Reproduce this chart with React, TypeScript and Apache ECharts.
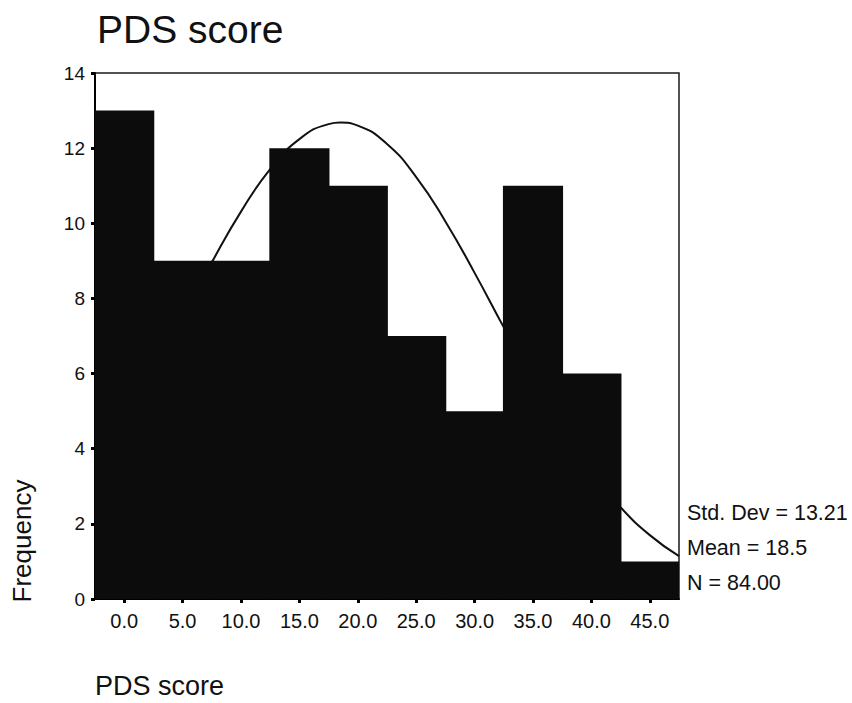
import React, { useEffect, useRef } from "react";
import * as echarts from "echarts";

const binLabels = ["0.0", "5.0", "10.0", "15.0", "20.0", "25.0", "30.0", "35.0", "40.0", "45.0"];
const frequencies = [13, 9, 9, 12, 11, 7, 5, 11, 6, 1];
const curveX = [-2.5, 0, 2.5, 5, 7.5, 10, 12.5, 15, 17.5, 18.5, 20, 22.5, 25, 27.5, 30, 32.5, 35, 37.5, 40, 42.5, 45, 47.5];
const curveY = [3.58, 4.76, 6.09, 7.52, 8.96, 10.31, 11.44, 12.24, 12.64, 12.68, 12.6, 12.11, 11.23, 10.05, 8.68, 7.23, 5.81, 4.51, 3.37, 2.44, 1.7, 1.14];
const statLines = ["Std. Dev = 13.21", "Mean = 18.5", "N = 84.00"];
const titleText = "PDS score";
const xAxisName = "PDS score";
const yAxisName = "Frequency";

const FONT = "Arial, 'Liberation Sans', sans-serif";

export default function App() {
  const ref = useRef<HTMLDivElement>(null);
  useEffect(() => {
    if (!ref.current) return;
    const chart = echarts.init(ref.current, undefined, { renderer: "svg" });
    const statY = [513, 548, 583];
    chart.setOption({
      animation: false,
      backgroundColor: "#ffffff",
      grid: {
        left: 95,
        right: 173,
        top: 73,
        bottom: 104,
        show: true,
        borderColor: "#1a1a1a",
        borderWidth: 1.5,
        backgroundColor: "transparent",
      },
      xAxis: [
        {
          type: "category",
          data: binLabels,
          boundaryGap: true,
          axisLine: { show: true, onZero: false, lineStyle: { color: "#000", width: 2 } },
          axisTick: { show: true, alignWithLabel: true, length: 4, lineStyle: { color: "#000", width: 3 } },
          axisLabel: { color: "#111", fontSize: 20, fontFamily: FONT, margin: 12 },
          splitLine: { show: false },
        },
        {
          type: "value",
          min: -2.5,
          max: 47.5,
          show: false,
          axisLine: { onZero: false },
          splitLine: { show: false },
        },
      ],
      yAxis: {
        type: "value",
        min: 0,
        max: 14,
        interval: 2,
        axisLine: { show: true, onZero: false, lineStyle: { color: "#000", width: 2 } },
        axisTick: { show: true, length: 4, lineStyle: { color: "#000", width: 3 } },
        axisLabel: { color: "#111", fontSize: 19, fontFamily: FONT, margin: 10 },
        splitLine: { show: false },
      },
      series: [
        {
          type: "bar",
          xAxisIndex: 0,
          data: frequencies,
          barWidth: "103%",
          clip: true,
          itemStyle: { color: "#0c0c0c" },
          z: 3,
        },
        {
          type: "line",
          xAxisIndex: 1,
          data: curveX.map((x, i) => [x, curveY[i]]),
          smooth: true,
          symbol: "none",
          lineStyle: { color: "#111", width: 2 },
          z: 2,
        },
      ],
      graphic: [
        {
          type: "text",
          left: 97,
          top: 10,
          style: { text: titleText, fontSize: 39, fontFamily: FONT, fill: "#111" },
        },
        {
          type: "text",
          left: 95,
          top: 672,
          style: { text: xAxisName, fontSize: 27, fontFamily: FONT, fill: "#111" },
        },
        {
          type: "text",
          x: 22,
          y: 541,
          rotation: Math.PI / 2,
          style: {
            text: yAxisName,
            fontSize: 26,
            fontFamily: FONT,
            fill: "#111",
            align: "center",
            verticalAlign: "middle",
          },
        },
        ...statLines.map((t, i) => ({
          type: "text",
          x: 687,
          y: statY[i],
          style: { text: t, fontSize: 21.5, fontFamily: FONT, fill: "#111", verticalAlign: "middle" },
        })),
      ],
    });
    return () => chart.dispose();
  }, []);
  return <div ref={ref} style={{ width: 852, height: 703, position: "absolute", left: 0, top: 0 }} />;
}
